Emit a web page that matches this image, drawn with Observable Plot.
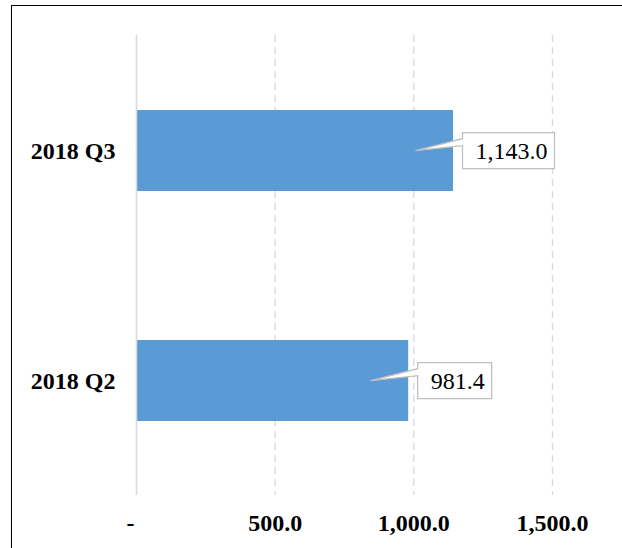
<!DOCTYPE html>
<html>
<head>
<meta charset="utf-8">
<script src="https://cdn.jsdelivr.net/npm/d3@7"></script>
<script src="https://cdn.jsdelivr.net/npm/@observablehq/plot@0.6"></script>
<style>
  html, body { margin: 0; padding: 0; background: #fff; overflow: hidden; width: 622px; height: 548px; }
  #chart { position: absolute; left: 0; top: 0; }
  #frame { position: absolute; left: 11px; top: 5px; width: 700px; height: 700px; border: 1px solid #000; z-index: 2; pointer-events: none; }
</style>
</head>
<body>
<div id="frame"></div>
<div id="chart"></div>
<script>
const quarters = ["2018 Q3", "2018 Q2"];
const values = [1143.0, 981.4];
const xTicks = [0, 500, 1000, 1500];

const data = quarters.map((q, i) => ({quarter: q, value: values[i]}));
const fmt = d3.format(",.1f");

const plot = Plot.plot({
  width: 622,
  height: 548,
  marginLeft: 136,
  marginRight: 70,
  marginTop: 35,
  marginBottom: 53,
  style: {fontFamily: "Liberation Serif", fontSize: "24px", fontWeight: "bold", background: "transparent", color: "#000"},
  x: {domain: [0, 1500], ticks: xTicks},
  y: {domain: quarters, paddingInner: 0.648, paddingOuter: 0.324},
  marks: [
    Plot.gridX(xTicks.filter(d => d !== 0), {stroke: "#d9d9d9", strokeOpacity: 1, strokeWidth: 1.3, strokeDasharray: "7,5"}),
    Plot.barX(data, {x: "value", y: "quarter", fill: "#5b9bd5"}),
    Plot.ruleX([0], {stroke: "#d9d9d9", strokeWidth: 1.6}),
    Plot.axisX(xTicks, {tickSize: 0, tickPadding: 18, tickFormat: d => d === 0 ? "-\u00a0\u00a0" : fmt(d), fontSize: 24, fontWeight: "bold", label: null}),
    Plot.axisY({tickSize: 0, tickPadding: 21, fontSize: 24, fontWeight: "bold", label: null}),
    Plot.text(data, {x: "value", y: "quarter", text: d => fmt(d.value), textAnchor: "start", dx: 22, fontSize: 24, fontWeight: "normal", fill: "#000"})
  ]
});
document.getElementById("chart").appendChild(plot);

// Draw callout boxes behind the value labels, positioned from the rendered text
const svgRect = plot.getBoundingClientRect();
const textGroup = [...plot.querySelectorAll('g[aria-label="text"]')].pop();
if (textGroup) {
  const ns = "http://www.w3.org/2000/svg";
  const callouts = document.createElementNS(ns, "g");
  textGroup.querySelectorAll("text").forEach(t => {
    const r = t.getBoundingClientRect();
    const x0 = r.left - svgRect.left, x1 = r.right - svgRect.left;
    const cy = (r.top + r.bottom) / 2 - svgRect.top;
    const L = x0 - 13, R = x1 + 7, T = cy - 18, B = cy + 18;
    const tipX = x0 - 60, tipY = cy;
    const p = document.createElementNS(ns, "path");
    p.setAttribute("d", `M${L},${T}H${R}V${B}H${L}V${T + 13}L${tipX},${tipY}L${L},${T + 6}Z`);
    p.setAttribute("fill", "#fff");
    p.setAttribute("stroke", "#bfbfbf");
    p.setAttribute("stroke-width", "1.3");
    callouts.appendChild(p);
  });
  textGroup.parentNode.insertBefore(callouts, textGroup);
}
</script>
</body>
</html>
